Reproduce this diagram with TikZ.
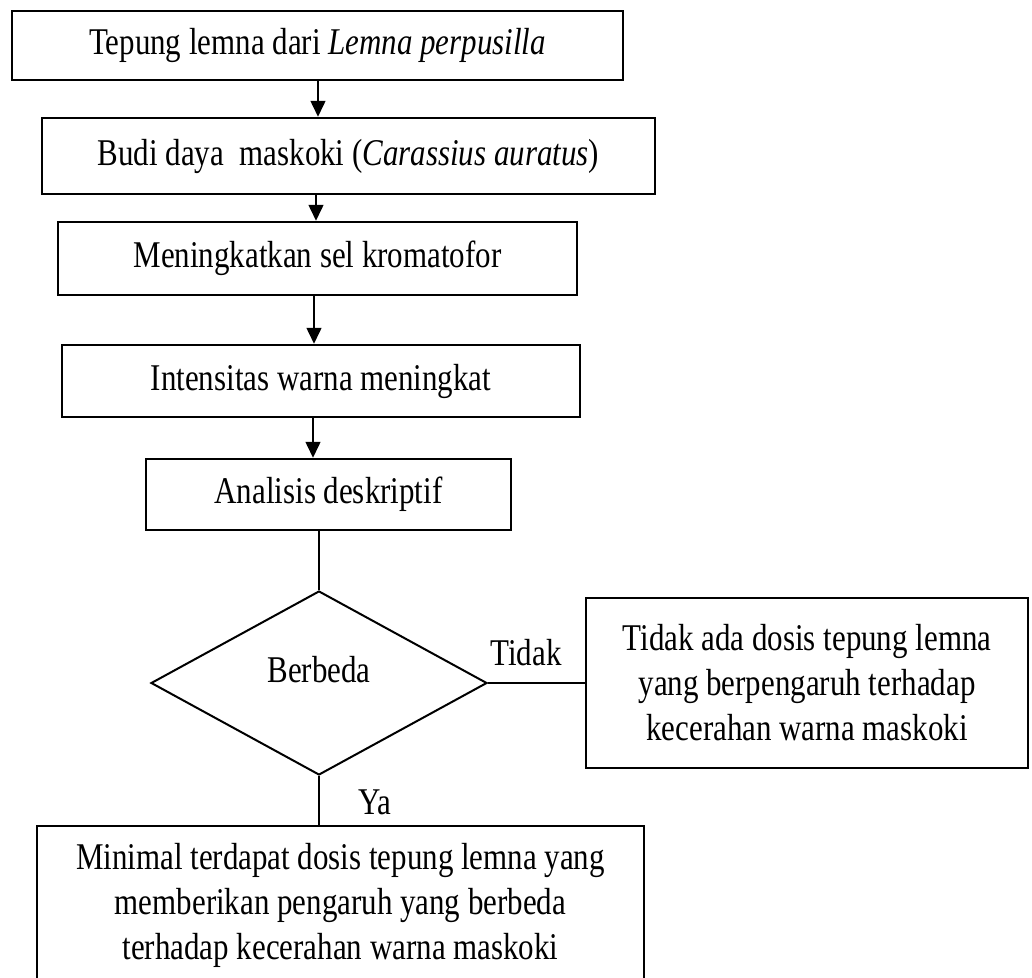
\documentclass[tikz,border=0pt]{standalone}
\usepackage{fontspec}
\setmainfont{Liberation Serif}[FakeStretch=0.82]
\usetikzlibrary{arrows.meta,shapes.geometric}

\begin{document}
\begin{tikzpicture}[x=0.4pt,y=-0.4pt,font=\fontsize{15.1}{18}\selectfont,
	kotak/.style={draw, line width=0.9pt, inner sep=0pt, align=center},
	panah/.style={-{Triangle[width=5.8pt,length=6.4pt]}, line width=1.1pt},
	garis/.style={line width=0.7pt}]
			\useasboundingbox (0,0) rectangle (1032,978);

			% Kotak alur utama
			\node[kotak, minimum width=244.4pt, minimum height=27.6pt] (tepung) at (317.5,45.5) {Tepung lemna dari \textit{Lemna perpusilla}};
			\node[kotak, minimum width=245.2pt, minimum height=30.4pt] (budidaya) at (348.5,156) {Budi daya\ \ maskoki (\textit{Carassius auratus})};
			\node[kotak, minimum width=207.6pt, minimum height=29.2pt] (sel) at (317.5,258.5) {Meningkatkan sel kromatofor};
			\node[kotak, minimum width=207.2pt, minimum height=28.8pt] (intensitas) at (321,381) {Intensitas warna meningkat};
			\node[kotak, minimum width=146pt, minimum height=28.4pt] (analisis) at (328.5,494.5) {Analisis deskriptif};

			% Keputusan
			\node[kotak, shape=diamond, line width=0.8pt, minimum width=134.4pt, minimum height=73.6pt, text depth=11pt] (beda) at (319,683) {Berbeda};
			\node[kotak, minimum width=176.8pt, minimum height=68pt] (tidakada) at (807,683) {Tidak ada dosis tepung lemna\\yang berpengaruh terhadap\\kecerahan warna maskoki};
			\node[kotak, minimum width=242.8pt, minimum height=63.6pt] (minimal) at (340.5,905.5) {Minimal terdapat dosis tepung lemna yang\\memberikan pengaruh yang berbeda\\terhadap kecerahan warna maskoki};

			% Label cabang
			\node (tidak) at (526,653) {Tidak};
			\node (ya) at (375,802) {Ya};

			% Panah antar kotak
			\coordinate (a1) at (318,0);
			\coordinate (a2) at (316,0);
			\coordinate (a3) at (314,0);
			\coordinate (a4) at (313,0);
			\draw[panah] (tepung.south -| a1) -- (budidaya.north -| a1);
			\draw[panah] (budidaya.south -| a2) -- (sel.north -| a2);
			\draw[panah] (sel.south -| a3) -- (intensitas.north -| a3);
			\draw[panah] (intensitas.south -| a4) -- (analisis.north -| a4);

			% Garis ke dan dari keputusan
			\draw[garis] (analisis.south -| beda.north) -- (beda.north);
			\draw[garis] (beda.east) -- (tidakada.west);
			\draw[garis] (beda.south) -- (minimal.north -| beda.south);
		\end{tikzpicture}
\end{document}
